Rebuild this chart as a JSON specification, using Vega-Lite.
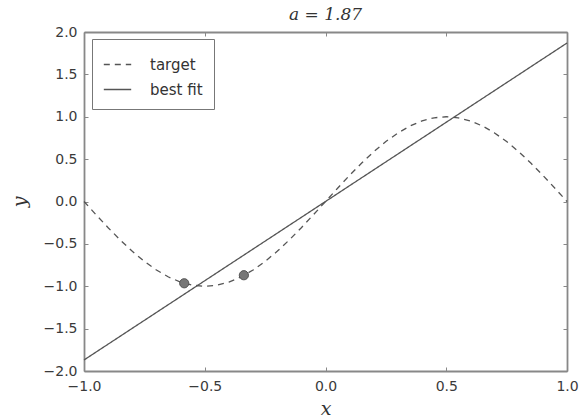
{
  "$schema": "https://vega.github.io/schema/vega-lite/v6.json",
  "width": 483,
  "height": 339,
  "autosize": {"type": "none"},
  "padding": {"left": 84, "top": 32, "right": 17, "bottom": 49},
  "background": "white",
  "config": {
    "view": {"stroke": null},
    "axis": {"grid": false, "domainColor": "#888888", "domainWidth": 1.8, "tickColor": "#888888", "tickSize": -4, "tickWidth": 1, "labelFont": "DejaVu Sans", "labelFontSize": 14, "labelColor": "#3a3a3a", "titleFont": "DejaVu Serif", "titleFontStyle": "italic", "titleFontWeight": "normal", "titleFontSize": 19, "titleColor": "#333333"}
  },
  "title": {"text": "a = 1.87", "font": "DejaVu Serif", "fontStyle": "italic", "fontWeight": "normal", "fontSize": 17, "color": "#333333", "offset": 1},
  "datasets": {
    "curves": [
      {"x": -1.0, "y": 0.0, "series": "target"},
      {"x": -0.95, "y": -0.1564, "series": "target"},
      {"x": -0.9, "y": -0.309, "series": "target"},
      {"x": -0.85, "y": -0.454, "series": "target"},
      {"x": -0.8, "y": -0.5878, "series": "target"},
      {"x": -0.75, "y": -0.7071, "series": "target"},
      {"x": -0.7, "y": -0.809, "series": "target"},
      {"x": -0.65, "y": -0.891, "series": "target"},
      {"x": -0.6, "y": -0.9511, "series": "target"},
      {"x": -0.55, "y": -0.9877, "series": "target"},
      {"x": -0.5, "y": -1.0, "series": "target"},
      {"x": -0.45, "y": -0.9877, "series": "target"},
      {"x": -0.4, "y": -0.9511, "series": "target"},
      {"x": -0.35, "y": -0.891, "series": "target"},
      {"x": -0.3, "y": -0.809, "series": "target"},
      {"x": -0.25, "y": -0.7071, "series": "target"},
      {"x": -0.2, "y": -0.5878, "series": "target"},
      {"x": -0.15, "y": -0.454, "series": "target"},
      {"x": -0.1, "y": -0.309, "series": "target"},
      {"x": -0.05, "y": -0.1564, "series": "target"},
      {"x": 0.0, "y": 0.0, "series": "target"},
      {"x": 0.05, "y": 0.1564, "series": "target"},
      {"x": 0.1, "y": 0.309, "series": "target"},
      {"x": 0.15, "y": 0.454, "series": "target"},
      {"x": 0.2, "y": 0.5878, "series": "target"},
      {"x": 0.25, "y": 0.7071, "series": "target"},
      {"x": 0.3, "y": 0.809, "series": "target"},
      {"x": 0.35, "y": 0.891, "series": "target"},
      {"x": 0.4, "y": 0.9511, "series": "target"},
      {"x": 0.45, "y": 0.9877, "series": "target"},
      {"x": 0.5, "y": 1.0, "series": "target"},
      {"x": 0.55, "y": 0.9877, "series": "target"},
      {"x": 0.6, "y": 0.9511, "series": "target"},
      {"x": 0.65, "y": 0.891, "series": "target"},
      {"x": 0.7, "y": 0.809, "series": "target"},
      {"x": 0.75, "y": 0.7071, "series": "target"},
      {"x": 0.8, "y": 0.5878, "series": "target"},
      {"x": 0.85, "y": 0.454, "series": "target"},
      {"x": 0.9, "y": 0.309, "series": "target"},
      {"x": 0.95, "y": 0.1564, "series": "target"},
      {"x": 1.0, "y": 0.0, "series": "target"},
      {"x": -1.0, "y": -1.87, "series": "best fit"},
      {"x": 1.0, "y": 1.87, "series": "best fit"}
    ],
    "samples": [
      {"x": -0.585, "y": -0.965},
      {"x": -0.338, "y": -0.87}
    ]
  },
  "layer": [
    {
      "data": {"name": "curves"},
      "mark": {"type": "line", "color": "#555555", "strokeWidth": 1.3},
      "encoding": {
        "x": {"field": "x", "type": "quantitative", "scale": {"domain": [-1, 1], "nice": false, "zero": false}, "axis": {"values": [-1, -0.5, 0, 0.5, 1], "labelExpr": "replace(format(datum.value, '.1f'), '-', '−')", "labelPadding": 12, "title": "x", "titlePadding": 6, "labelFlush": false}},
        "y": {"field": "y", "type": "quantitative", "scale": {"domain": [-2, 2], "nice": false, "zero": false}, "axis": {"values": [-2, -1.5, -1, -0.5, 0, 0.5, 1, 1.5, 2], "labelExpr": "replace(format(datum.value, '.1f'), '-', '−')", "labelPadding": 11, "title": "y", "titlePadding": 14, "labelFlush": false}},
        "strokeDash": {"field": "series", "type": "nominal", "scale": {"domain": ["target", "best fit"], "range": [[6, 5], [1, 0]]}, "legend": {"title": null, "orient": "none", "legendX": 8, "legendY": 7, "symbolType": "stroke", "symbolStrokeColor": "#555555", "symbolStrokeWidth": 1.3, "symbolSize": 750, "labelFont": "DejaVu Sans", "labelFontSize": 15, "labelColor": "#333333", "strokeColor": "#777777", "padding": 11, "rowPadding": 2, "labelOffset": 18, "fillColor": "white"}}
      }
    },
    {
      "data": {"name": "samples"},
      "mark": {"type": "circle", "size": 85, "fill": "#777777", "stroke": "#555555", "strokeWidth": 1, "opacity": 1},
      "encoding": {
        "x": {"field": "x", "type": "quantitative", "axis": {"orient": "top", "values": [-1, -0.5, 0, 0.5, 1], "labels": false, "title": null}},
        "y": {"field": "y", "type": "quantitative", "axis": {"orient": "right", "values": [-2, -1.5, -1, -0.5, 0, 0.5, 1, 1.5, 2], "labels": false, "title": null}}
      }
    }
  ],
  "resolve": {"axis": {"x": "independent", "y": "independent"}}
}
